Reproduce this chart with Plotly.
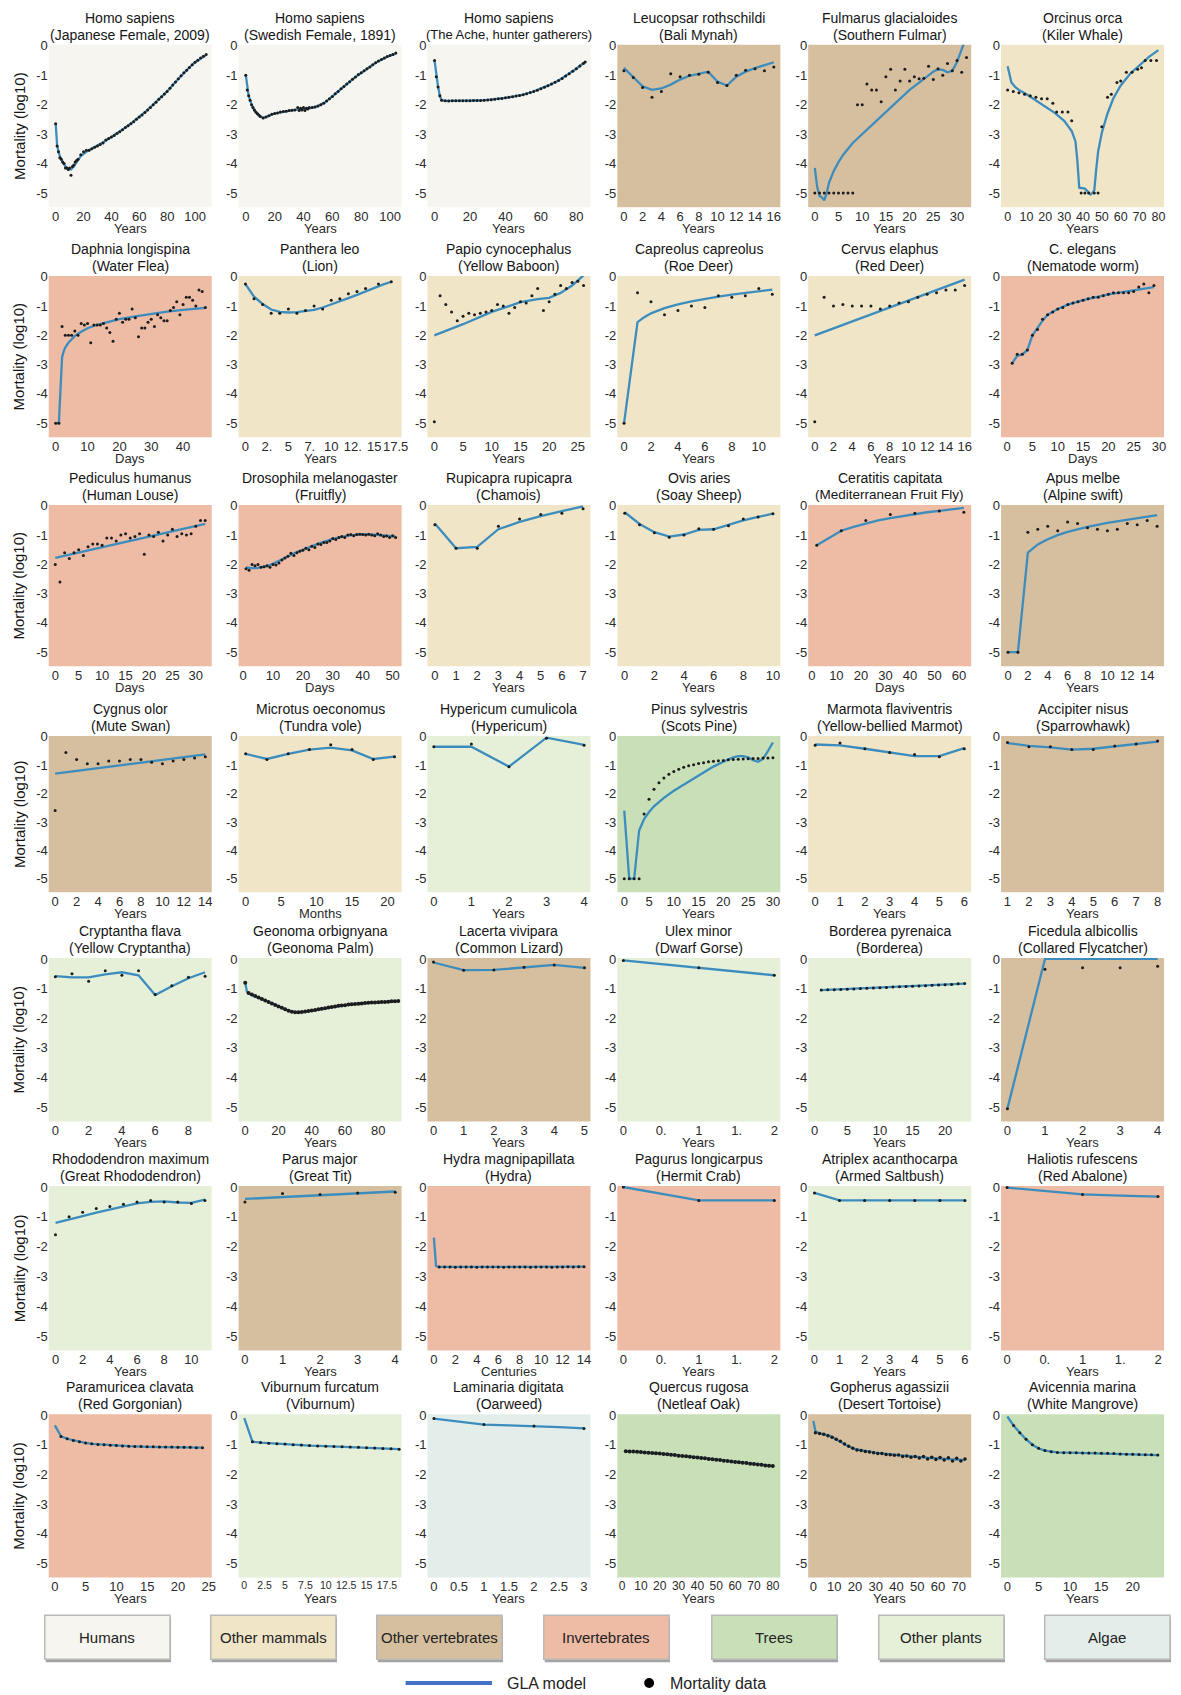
import plotly.graph_objects as go

FIG_W, FIG_H = 1181, 1695

GROUP_FILL = {
    "Humans": "#F7F5EF",
    "Other mammals": "#F1E5C8",
    "Other vertebrates": "#D6BF9F",
    "Invertebrates": "#EEBBA5",
    "Trees": "#C9DFB8",
    "Other plants": "#E6F0D9",
    "Algae": "#E3EEEA",
}
GROUP_ORDER = ["Humans", "Other mammals", "Other vertebrates", "Invertebrates",
               "Trees", "Other plants", "Algae"]

MODEL_COLOR = "#3C8DBE"
DATA_COLOR = "#1c1c1c"
BODY_FONT = "Arial, Liberation Sans, sans-serif"
NARROW_FONT = "Liberation Sans Narrow, Arial Narrow, Liberation Sans, sans-serif"

# ---------------- series: (age, log10 mortality) ----------------
japan_model = [(0,-2.65),(1,-3.35),(2,-3.6),(3,-3.75),(5,-3.95),(7,-4.1),(9,-4.18),(11,-4.2),(13,-4.1),(15,-3.95),(18,-3.75),(22,-3.6),(26,-3.5),(30,-3.4),(35,-3.25),(40,-3.1),(45,-2.95),(50,-2.78),(55,-2.6),(60,-2.42),(65,-2.22),(70,-2.0),(75,-1.78),(80,-1.55),(85,-1.28),(90,-1.02),(95,-0.78),(100,-0.56),(105,-0.4),(108,-0.32)]
japan_data = [(0,-2.65),(1,-3.4),(2,-3.6),(3,-3.8),(4,-3.85),(5,-3.95),(6,-4.0),(7,-4.15),(8,-4.15),(9,-4.2),(10,-4.15),(11,-4.4),(12,-4.1),(13,-4.05),(14,-3.95),(15,-3.9),(16,-3.85),(18,-3.7),(20,-3.6),(22,-3.55),(24,-3.55),(26,-3.5),(28,-3.45),(30,-3.4),(32,-3.35),(34,-3.3),(36,-3.2),(38,-3.15),(40,-3.1),(42,-3.05),(44,-2.98),(46,-2.92),(48,-2.85),(50,-2.78),(52,-2.72),(54,-2.65),(56,-2.58),(58,-2.5),(60,-2.42),(62,-2.35),(64,-2.27),(66,-2.18),(68,-2.1),(70,-2.0),(72,-1.92),(74,-1.82),(76,-1.73),(78,-1.64),(80,-1.55),(82,-1.44),(84,-1.33),(86,-1.23),(88,-1.12),(90,-1.02),(92,-0.92),(94,-0.83),(96,-0.74),(98,-0.65),(100,-0.56),(102,-0.49),(104,-0.42),(106,-0.36),(108,-0.3)]

sweden_model = [(0,-1.0),(1,-1.45),(2,-1.7),(4,-2.0),(6,-2.2),(8,-2.32),(10,-2.4),(12,-2.45),(14,-2.42),(17,-2.35),(20,-2.3),(25,-2.25),(30,-2.2),(35,-2.17),(40,-2.15),(45,-2.12),(50,-2.05),(55,-1.92),(60,-1.72),(65,-1.5),(70,-1.3),(75,-1.1),(80,-0.92),(85,-0.75),(90,-0.58),(95,-0.45),(100,-0.33),(104,-0.27)]
sweden_data = [(0,-1.0),(1,-1.5),(2,-1.7),(3,-1.85),(4,-2.0),(5,-2.1),(6,-2.18),(7,-2.25),(8,-2.3),(9,-2.35),(10,-2.4),(12,-2.45),(14,-2.42),(16,-2.38),(18,-2.33),(20,-2.3),(22,-2.28),(24,-2.25),(26,-2.23),(28,-2.22),(30,-2.2),(32,-2.19),(34,-2.18),(36,-2.1),(37,-2.2),(38,-2.12),(39,-2.18),(40,-2.1),(41,-2.2),(42,-2.12),(43,-2.15),(44,-2.1),(46,-2.1),(48,-2.08),(50,-2.05),(52,-2.0),(54,-1.95),(56,-1.88),(58,-1.8),(60,-1.72),(62,-1.63),(64,-1.55),(66,-1.46),(68,-1.38),(70,-1.3),(72,-1.22),(74,-1.14),(76,-1.06),(78,-0.98),(80,-0.92),(82,-0.85),(84,-0.78),(86,-0.72),(88,-0.65),(90,-0.58),(92,-0.52),(94,-0.47),(96,-0.42),(98,-0.37),(100,-0.33),(102,-0.3),(104,-0.25)]

ache_model = [(0,-0.5),(1,-1.0),(2,-1.4),(3,-1.7),(4,-1.85),(6,-1.87),(10,-1.87),(15,-1.87),(20,-1.87),(25,-1.86),(30,-1.84),(35,-1.81),(40,-1.77),(45,-1.72),(50,-1.66),(55,-1.57),(60,-1.46),(65,-1.33),(70,-1.18),(75,-0.99),(80,-0.78),(85,-0.55)]
ache_data = [(0,-0.5),(1,-1.05),(2,-1.4),(3,-1.7),(4,-1.85),(6,-1.87),(8,-1.88),(10,-1.87),(12,-1.87),(14,-1.87),(16,-1.87),(18,-1.87),(20,-1.87),(22,-1.86),(24,-1.86),(26,-1.86),(28,-1.85),(30,-1.84),(32,-1.83),(34,-1.82),(36,-1.8),(38,-1.79),(40,-1.77),(42,-1.75),(44,-1.73),(46,-1.71),(48,-1.69),(50,-1.66),(52,-1.63),(54,-1.59),(56,-1.55),(58,-1.51),(60,-1.46),(62,-1.41),(64,-1.36),(66,-1.3),(68,-1.24),(70,-1.18),(72,-1.11),(74,-1.03),(76,-0.95),(78,-0.87),(80,-0.78),(82,-0.69),(84,-0.6),(85,-0.55)]

mynah_model = [(0,-0.75),(1,-1.05),(2,-1.38),(3,-1.5),(4,-1.45),(5,-1.32),(6,-1.15),(7,-1.02),(8,-0.95),(9,-0.88),(10,-1.22),(11,-1.35),(12,-1.05),(13,-0.88),(14,-0.76),(15,-0.66),(16,-0.56)]
mynah_data = [(0,-0.85),(1,-1.08),(2,-1.42),(3,-1.75),(4,-1.55),(5,-0.95),(6,-1.05),(7,-1.0),(8,-0.97),(9,-0.9),(10,-1.25),(11,-1.35),(12,-1.0),(13,-0.83),(14,-0.78),(15,-0.85),(16,-0.72)]

fulmar_model = [(0,-4.15),(0.5,-4.8),(1,-5.1),(1.5,-5.15),(2,-5.25),(2.5,-5.0),(3,-4.65),(4,-4.25),(5,-3.95),(6,-3.7),(8,-3.3),(10,-3.0),(12,-2.7),(15,-2.25),(18,-1.8),(20,-1.5),(22,-1.25),(24,-1.0),(25,-0.88),(26,-0.8),(27,-0.82),(28,-0.9),(29,-0.85),(30,-0.55),(31,-0.15),(31.5,0.1)]
fulmar_data = [(0,-5),(1,-5),(2,-5),(3,-5),(4,-5),(5,-5),(6,-5),(7,-5),(8,-5),(9,-2.0),(10,-2.0),(11,-1.3),(12,-1.5),(13,-1.5),(14,-1.9),(15,-1.05),(16,-0.8),(17,-1.5),(18,-1.2),(19,-0.8),(20,-1.2),(21,-1.05),(22,-1.12),(23,-1.1),(24,-0.7),(25,-1.15),(26,-0.78),(27,-1.0),(28,-0.6),(29,-0.85),(30,-0.5),(31,-0.9),(32,-0.4)]

orca_model = [(0,-0.7),(1,-1.0),(2,-1.25),(4,-1.4),(6,-1.5),(10,-1.65),(15,-1.85),(20,-2.05),(25,-2.28),(30,-2.55),(34,-2.9),(36,-3.25),(37,-3.9),(38,-4.82),(40,-4.85),(41,-4.85),(43,-4.98),(44,-5.05),(45,-5.0),(46,-4.9),(47,-4.2),(48,-3.6),(50,-2.95),(53,-2.3),(56,-1.8),(60,-1.35),(65,-0.95),(70,-0.65),(75,-0.38),(80,-0.15)]
orca_data = [(0,-1.5),(3,-1.55),(6,-1.6),(9,-1.65),(12,-1.7),(15,-1.75),(18,-1.8),(21,-1.8),(24,-1.95),(26,-2.25),(29,-2.25),(32,-2.25),(34,-2.55),(39,-5.0),(41,-5.0),(43,-5.0),(46,-5.0),(48,-5.0),(50,-2.75),(53,-1.75),(55,-1.65),(58,-1.25),(60,-1.2),(63,-0.9),(66,-0.9),(69,-0.8),(71,-0.75),(73,-0.5),(76,-0.5),(79,-0.5)]

daphnia_model = [(0,-5),(1,-5),(1.3,-4.3),(1.6,-3.3),(2,-2.75),(2.5,-2.55),(3,-2.42),(4,-2.25),(5,-2.12),(6,-2.02),(8,-1.88),(10,-1.76),(13,-1.64),(16,-1.55),(20,-1.45),(25,-1.35),(30,-1.26),(35,-1.19),(40,-1.13),(44,-1.09),(47,-1.06)]
daphnia_data = [(0,-5),(1,-5),(2,-1.7),(3,-2.0),(4,-2.0),(5,-2.0),(6,-1.85),(7,-2.0),(8,-1.6),(9,-1.65),(10,-1.6),(11,-2.25),(12,-1.65),(13,-1.65),(14,-1.65),(15,-1.6),(16,-1.75),(17,-1.9),(18,-2.2),(19,-1.45),(20,-1.25),(21,-1.55),(22,-1.45),(23,-1.45),(24,-1.1),(25,-1.4),(26,-2.05),(27,-1.75),(28,-1.75),(29,-1.55),(30,-1.45),(31,-1.7),(32,-1.3),(33,-1.4),(34,-1.5),(35,-1.5),(36,-1.15),(37,-1.05),(38,-0.85),(39,-1.3),(40,-0.95),(41,-0.7),(42,-0.7),(43,-0.8),(44,-1.0),(45,-0.45),(46,-0.5),(47,-1.05)]

lion_model = [(0,-0.25),(1,-0.68),(2,-0.93),(3,-1.12),(4,-1.2),(5,-1.22),(6,-1.21),(7,-1.18),(8,-1.13),(9,-1.05),(10,-0.95),(11,-0.85),(12,-0.73),(13,-0.62),(14,-0.5),(15,-0.38),(16,-0.27),(17,-0.17)]
lion_data = [(0,-0.25),(1,-0.75),(2,-0.95),(3,-1.25),(4,-1.25),(5,-1.1),(6,-1.25),(7,-1.15),(8,-1.0),(9,-1.1),(10,-0.8),(11,-0.75),(12,-0.58),(13,-0.5),(14,-0.4),(15.5,-0.25),(17,-0.17)]

baboon_model = [(0,-2.0),(5,-1.62),(10,-1.2),(15,-0.87),(18,-0.76),(20,-0.72),(22,-0.55),(24,-0.3),(26,0.05)]
baboon_data = [(0,-4.95),(1,-0.65),(2,-0.95),(3,-1.2),(4,-1.5),(5,-1.35),(6,-1.25),(7,-1.3),(8,-1.25),(9,-1.2),(10,-1.15),(11,-0.95),(12,-1.0),(13,-1.25),(14,-1.05),(15,-0.85),(16,-0.9),(17,-0.65),(18,-0.4),(19,-1.15),(20,-0.85),(21,-0.6),(22,-0.3),(23,-0.4),(24,-0.2),(25,-0.15),(26,-0.3)]

roe_model = [(0,-5),(1,-1.55),(1.5,-1.38),(2,-1.25),(3,-1.07),(4,-0.94),(5,-0.84),(6,-0.75),(7,-0.68),(8,-0.61),(9,-0.55),(10,-0.49),(11,-0.44)]
roe_data = [(0,-5.0),(1,-0.55),(2,-0.85),(3,-1.3),(4,-1.15),(5,-1.0),(6,-1.05),(7,-0.65),(8,-0.7),(9,-0.65),(10,-0.4),(11,-0.6)]

reddeer_model = [(0,-2.0),(16,-0.1)]
reddeer_data = [(0,-4.95),(1,-0.7),(2,-1.0),(3,-0.95),(4,-1.0),(5,-1.0),(6,-1.0),(7,-1.1),(8,-1.0),(9,-0.9),(10,-0.85),(11,-0.7),(12,-0.6),(13,-0.55),(14,-0.45),(15,-0.45),(16,-0.3)]

elegans_model = [(1,-2.95),(2,-2.7),(3,-2.65),(4,-2.5),(5,-2.0),(6,-1.75),(7,-1.5),(8,-1.3),(10,-1.1),(12,-0.95),(15,-0.8),(20,-0.6),(25,-0.45),(29,-0.35)]
elegans_data = [(1,-2.95),(2,-2.65),(3,-2.65),(4,-2.5),(5,-2.0),(6,-1.8),(7,-1.45),(8,-1.3),(9,-1.2),(10,-1.1),(11,-1.05),(12,-0.95),(13,-0.9),(14,-0.85),(15,-0.8),(16,-0.75),(17,-0.7),(18,-0.7),(19,-0.65),(20,-0.6),(21,-0.55),(22,-0.55),(23,-0.55),(24,-0.55),(25,-0.5),(26,-0.35),(27,-0.25),(28,-0.55),(29,-0.3)]

louse_model = [(0,-1.78),(32,-0.62)]
louse_data = [(0,-2.0),(1,-2.6),(2,-1.6),(3,-1.8),(4,-1.6),(5,-1.5),(6,-1.7),(7,-1.4),(8,-1.3),(9,-1.3),(10,-1.35),(11,-1.1),(12,-1.1),(13,-1.2),(14,-1.0),(15,-0.95),(16,-1.1),(17,-1.05),(18,-0.95),(19,-1.65),(20,-1.0),(21,-1.05),(22,-0.9),(23,-1.2),(24,-1.0),(25,-0.8),(26,-1.05),(27,-0.95),(28,-1.0),(29,-0.95),(30,-0.7),(31,-0.5),(32,-0.5)]

fruitfly_model = [(1,-2.1),(3,-2.13),(5,-2.12),(8,-2.06),(10,-1.98),(12,-1.88),(15,-1.72),(18,-1.58),(20,-1.5),(25,-1.3),(30,-1.13),(35,-1.02),(40,-0.97),(45,-0.99),(50,-1.04),(51,-1.05)]
fruitfly_data = [(1,-2.15),(2,-2.2),(3,-2.0),(4,-2.05),(5,-2.0),(6,-2.1),(7,-2.08),(8,-2.05),(9,-2.1),(10,-2.0),(11,-2.02),(12,-1.95),(13,-1.85),(14,-1.78),(15,-1.72),(16,-1.62),(17,-1.7),(18,-1.6),(19,-1.55),(20,-1.52),(21,-1.45),(22,-1.5),(23,-1.38),(24,-1.42),(25,-1.3),(26,-1.32),(27,-1.25),(28,-1.25),(29,-1.2),(30,-1.12),(31,-1.15),(32,-1.08),(33,-1.05),(34,-1.08),(35,-1.0),(36,-0.98),(37,-1.02),(38,-0.98),(39,-0.97),(40,-0.98),(41,-1.0),(42,-0.97),(43,-1.0),(44,-1.02),(45,-0.95),(46,-1.0),(47,-1.05),(48,-1.03),(49,-1.08),(50,-1.02),(51,-1.08)]

chamois_model = [(0,-0.6),(1,-1.45),(2,-1.4),(3,-0.8),(4,-0.55),(5,-0.35),(6,-0.18),(7,-0.02)]
chamois_data = [(0,-0.65),(1,-1.45),(2,-1.45),(3,-0.7),(4,-0.45),(5,-0.3),(6,-0.25),(7,-0.1)]

sheep_model = [(0,-0.22),(1,-0.62),(2,-0.9),(3,-1.05),(4,-0.98),(5,-0.82),(6,-0.8),(7,-0.65),(8,-0.5),(9,-0.38),(10,-0.27)]
sheep_data = [(0,-0.25),(1,-0.65),(2,-0.92),(3,-1.07),(4,-1.0),(5,-0.78),(6,-0.8),(7,-0.68),(8,-0.45),(9,-0.38),(10,-0.27)]

medfly_model = [(2,-1.35),(7,-1.1),(12,-0.85),(17,-0.72),(22,-0.6),(27,-0.5),(32,-0.42),(37,-0.35),(42,-0.28),(47,-0.22),(52,-0.17),(57,-0.12),(62,-0.07)]
medfly_data = [(2,-1.35),(12,-0.85),(22,-0.5),(32,-0.3),(42,-0.25),(52,-0.18),(62,-0.22)]

swift_model = [(0,-5),(1,-5),(2,-1.6),(2.5,-1.45),(3,-1.32),(4,-1.14),(5,-1.0),(6,-0.89),(7,-0.8),(8,-0.72),(10,-0.58),(12,-0.47),(14,-0.37),(15,-0.32)]
swift_data = [(0,-5),(1,-5),(2,-0.9),(3,-0.8),(4,-0.7),(5,-0.85),(6,-0.55),(7,-0.6),(8,-0.75),(9,-0.8),(10,-0.85),(11,-0.8),(12,-0.6),(13,-0.65),(14,-0.5),(15,-0.7)]

swan_model = [(0,-1.3),(14,-0.62)]
swan_data = [(0,-2.6),(1,-0.55),(2,-0.8),(3,-0.95),(4,-0.95),(5,-0.85),(6,-0.85),(7,-0.8),(8,-0.8),(9,-0.9),(10,-0.95),(11,-0.85),(12,-0.8),(13,-0.75),(14,-0.7)]

vole_model = [(0,-0.6),(3,-0.78),(6,-0.6),(9,-0.45),(12,-0.38),(15,-0.48),(18,-0.78),(21,-0.7)]
vole_data = [(0,-0.6),(3,-0.8),(6,-0.6),(9,-0.45),(12,-0.28),(15,-0.45),(18,-0.8),(21,-0.7)]

hypericum_model = [(0,-0.35),(1,-0.35),(2,-1.05),(3,-0.03),(4,-0.28)]
hypericum_data = [(0,-0.35),(1,-0.25),(2,-1.05),(3,-0.05),(4,-0.3)]

pine_model = [(0,-2.6),(1,-5.0),(2,-5.0),(2.5,-4.2),(3,-3.3),(4,-2.9),(5,-2.65),(6,-2.45),(8,-2.15),(10,-1.9),(12,-1.68),(15,-1.35),(18,-1.05),(20,-0.88),(22,-0.72),(23,-0.68),(24,-0.68),(25,-0.72),(26,-0.82),(27,-0.88),(28,-0.78),(29,-0.5),(30,-0.2)]
pine_data = [(0,-5.0),(1,-5.0),(2,-5.0),(3,-5.0),(4,-2.72),(5,-2.2),(6,-1.85),(7,-1.62),(8,-1.45),(9,-1.32),(10,-1.22),(11,-1.14),(12,-1.07),(13,-1.02),(14,-0.98),(15,-0.94),(16,-0.91),(17,-0.88),(18,-0.86),(19,-0.84),(20,-0.83),(21,-0.81),(22,-0.8),(23,-0.79),(24,-0.78),(25,-0.77),(26,-0.76),(27,-0.76),(28,-0.75),(29,-0.75),(30,-0.74)]

marmot_model = [(0,-0.27),(1,-0.3),(2,-0.42),(3,-0.55),(4,-0.68),(5,-0.68),(6,-0.4)]
marmot_data = [(0,-0.3),(1,-0.22),(2,-0.42),(3,-0.55),(4,-0.62),(5,-0.7),(6,-0.42)]

hawk_model = [(1,-0.22),(2,-0.32),(3,-0.37),(4,-0.45),(5,-0.42),(6,-0.33),(7,-0.25),(8,-0.17)]
hawk_data = [(1,-0.2),(2,-0.35),(3,-0.35),(4,-0.45),(5,-0.45),(6,-0.32),(7,-0.25),(8,-0.15)]

cryptantha_model = [(0,-0.58),(1,-0.62),(2,-0.62),(3,-0.52),(4,-0.45),(5,-0.55),(6,-1.22),(7,-0.92),(8,-0.65),(9,-0.45)]
cryptantha_data = [(0,-0.6),(1,-0.5),(2,-0.75),(3,-0.4),(4,-0.55),(5,-0.4),(6,-1.2),(7,-0.9),(8,-0.62),(9,-0.58)]

geonoma_model = [(0,-0.8),(1,-1.1),(2,-1.17),(5,-1.25),(10,-1.35),(15,-1.47),(20,-1.6),(25,-1.72),(30,-1.8),(35,-1.79),(40,-1.75),(50,-1.65),(60,-1.56),(70,-1.5),(80,-1.46),(92,-1.42)]
geonoma_data = [(0,-0.8),(2,-1.15),(4,-1.2),(6,-1.25),(8,-1.3),(10,-1.35),(12,-1.4),(14,-1.45),(16,-1.5),(18,-1.55),(20,-1.6),(22,-1.65),(24,-1.7),(26,-1.75),(28,-1.78),(30,-1.8),(32,-1.8),(34,-1.79),(36,-1.77),(38,-1.76),(40,-1.74),(42,-1.72),(44,-1.7),(46,-1.68),(48,-1.66),(50,-1.64),(52,-1.62),(54,-1.6),(56,-1.58),(58,-1.57),(60,-1.56),(62,-1.54),(64,-1.53),(66,-1.52),(68,-1.51),(70,-1.5),(72,-1.49),(74,-1.48),(76,-1.47),(78,-1.47),(80,-1.46),(82,-1.45),(84,-1.45),(86,-1.44),(88,-1.43),(90,-1.43),(92,-1.42)]

lizard_model = [(0,-0.12),(1,-0.38),(2,-0.37),(3,-0.28),(4,-0.2),(5,-0.3)]
lizard_data = [(0,-0.1),(1,-0.38),(2,-0.37),(3,-0.28),(4,-0.2),(5,-0.3)]

ulex_model = [(0,-0.05),(1,-0.3),(2,-0.55)]
ulex_data = [(0,-0.05),(1,-0.3),(2,-0.55)]

borderea_model = [(1,-1.05),(23,-0.83)]
borderea_data = [(1,-1.05),(2,-1.04),(3,-1.04),(4,-1.03),(5,-1.02),(6,-1.01),(7,-1.0),(8,-0.99),(9,-0.98),(10,-0.97),(11,-0.96),(12,-0.95),(13,-0.94),(14,-0.93),(15,-0.92),(16,-0.91),(17,-0.9),(18,-0.89),(19,-0.88),(20,-0.87),(21,-0.86),(22,-0.84),(23,-0.83)]

flycatcher_model = [(0,-5.05),(1,0.0),(2,0.0),(3,0.0),(4,0.0)]
flycatcher_data = [(0,-5.05),(1,-0.35),(2,-0.3),(3,-0.3),(4,-0.25)]

rhodo_model = [(0,-1.2),(1,-1.1),(2,-0.98),(3,-0.86),(4,-0.75),(5,-0.64),(6,-0.55),(7,-0.5),(8,-0.48),(9,-0.52),(10,-0.53),(11,-0.42)]
rhodo_data = [(0,-1.6),(1,-1.0),(2,-0.85),(3,-0.72),(4,-0.65),(5,-0.58),(6,-0.5),(7,-0.45),(8,-0.5),(9,-0.5),(10,-0.55),(11,-0.45)]

tit_model = [(0,-0.4),(1,-0.34),(2,-0.28),(3,-0.22),(4,-0.15)]
tit_data = [(0,-0.5),(1,-0.22),(2,-0.25),(3,-0.2),(4,-0.18)]

hydra_model = [(0,-1.7),(0.1,-2.4),(0.2,-2.65),(0.4,-2.68),(1,-2.68),(14,-2.67)]
hydra_data = [(0.5,-2.68),(1,-2.68),(1.5,-2.68),(2,-2.69),(2.5,-2.68),(3,-2.68),(3.5,-2.68),(4,-2.69),(4.5,-2.68),(5,-2.68),(5.5,-2.68),(6,-2.68),(6.5,-2.69),(7,-2.68),(7.5,-2.68),(8,-2.68),(8.5,-2.68),(9,-2.69),(9.5,-2.68),(10,-2.68),(10.5,-2.68),(11,-2.69),(11.5,-2.68),(12,-2.68),(12.5,-2.67),(13,-2.68),(13.5,-2.67),(14,-2.67)]

pagurus_model = [(0,0.0),(1,-0.45),(2,-0.45)]
pagurus_data = [(0,0.0),(1,-0.45),(2,-0.45)]

atriplex_model = [(0,-0.2),(1,-0.45),(2,-0.45),(3,-0.45),(4,-0.45),(5,-0.45),(6,-0.45)]
atriplex_data = [(0,-0.2),(1,-0.45),(2,-0.45),(3,-0.45),(4,-0.45),(5,-0.45),(6,-0.45)]

abalone_model = [(0,-0.02),(0.5,-0.14),(1,-0.25),(1.5,-0.29),(2,-0.32)]
abalone_data = [(0,-0.02),(1,-0.25),(2,-0.32)]

gorgonian_model = [(0,-0.35),(1,-0.72),(2,-0.8),(3,-0.86),(4,-0.9),(5,-0.94),(6,-0.97),(8,-1.0),(10,-1.03),(12,-1.05),(15,-1.07),(18,-1.08),(21,-1.09),(24,-1.1)]
gorgonian_data = [(1,-0.72),(2,-0.8),(3,-0.86),(4,-0.9),(5,-0.94),(6,-0.97),(7,-0.99),(8,-1.0),(9,-1.02),(10,-1.03),(11,-1.04),(12,-1.05),(13,-1.06),(14,-1.06),(15,-1.07),(16,-1.07),(17,-1.08),(18,-1.08),(19,-1.08),(20,-1.09),(21,-1.09),(22,-1.09),(23,-1.1),(24,-1.1)]

viburnum_model = [(0,-0.1),(1,-0.9),(2,-0.93),(4,-0.97),(6,-1.0),(8,-1.03),(10,-1.05),(12,-1.07),(14,-1.09),(16,-1.11),(18,-1.14),(19,-1.15)]
viburnum_data = [(1,-0.9),(2,-0.93),(3,-0.95),(4,-0.97),(5,-0.98),(6,-1.0),(7,-1.01),(8,-1.03),(9,-1.04),(10,-1.05),(11,-1.06),(12,-1.07),(13,-1.08),(14,-1.09),(15,-1.1),(16,-1.11),(17,-1.13),(18,-1.14),(19,-1.15)]

oarweed_model = [(0,-0.12),(0.5,-0.22),(1,-0.32),(1.5,-0.35),(2,-0.37),(2.5,-0.41),(3,-0.45)]
oarweed_data = [(0,-0.12),(1,-0.32),(2,-0.37),(3,-0.45)]

oak_model = [(2,-1.22),(20,-1.3),(40,-1.43),(60,-1.58),(80,-1.72)]
oak_data = [(2,-1.22),(4,-1.23),(6,-1.23),(8,-1.24),(10,-1.25),(12,-1.26),(14,-1.27),(16,-1.28),(18,-1.29),(20,-1.3),(22,-1.31),(24,-1.32),(26,-1.34),(28,-1.35),(30,-1.37),(32,-1.38),(34,-1.39),(36,-1.41),(38,-1.42),(40,-1.43),(42,-1.45),(44,-1.46),(46,-1.48),(48,-1.49),(50,-1.51),(52,-1.52),(54,-1.54),(56,-1.55),(58,-1.57),(60,-1.58),(62,-1.59),(64,-1.61),(66,-1.62),(68,-1.64),(70,-1.65),(72,-1.67),(74,-1.68),(76,-1.7),(78,-1.71),(80,-1.72)]

tortoise_model = [(0,-0.2),(1,-0.55),(3,-0.62),(5,-0.65),(8,-0.7),(10,-0.78),(13,-0.9),(16,-1.02),(20,-1.15),(25,-1.22),(30,-1.27),(35,-1.31),(40,-1.35),(45,-1.38),(50,-1.41),(55,-1.44),(60,-1.46),(65,-1.48),(70,-1.5),(73,-1.52)]
tortoise_data = [(1,-0.6),(3,-0.62),(5,-0.65),(7,-0.7),(9,-0.75),(11,-0.82),(13,-0.88),(15,-0.98),(17,-1.05),(19,-1.12),(21,-1.18),(23,-1.2),(25,-1.23),(27,-1.25),(29,-1.27),(31,-1.3),(33,-1.3),(35,-1.33),(37,-1.34),(39,-1.36),(41,-1.35),(43,-1.4),(45,-1.38),(47,-1.42),(49,-1.4),(51,-1.45),(53,-1.4),(55,-1.48),(57,-1.42),(59,-1.5),(61,-1.43),(63,-1.52),(65,-1.44),(67,-1.55),(69,-1.46),(71,-1.55),(73,-1.48)]

mangrove_model = [(0,-0.05),(1,-0.35),(2,-0.6),(3,-0.82),(4,-1.0),(5,-1.13),(6,-1.2),(7,-1.24),(8,-1.26),(10,-1.27),(12,-1.28),(15,-1.29),(18,-1.31),(21,-1.33),(24,-1.35)]
mangrove_data = [(1,-0.35),(2,-0.6),(3,-0.82),(4,-1.0),(5,-1.12),(6,-1.2),(7,-1.24),(8,-1.26),(9,-1.27),(10,-1.27),(11,-1.27),(12,-1.28),(13,-1.28),(14,-1.28),(15,-1.29),(16,-1.29),(17,-1.3),(18,-1.31),(19,-1.32),(20,-1.32),(21,-1.33),(22,-1.34),(23,-1.34),(24,-1.35)]

HALF_TICKS = ["0", "0.", "1", "1.", "2"]

# title, common name, group, age unit, model, data, x range, x ticks, tick labels
PANELS = [
    ("Homo sapiens", "(Japanese Female, 2009)", "Humans", "Years", japan_model, japan_data, (-5, 112), [0, 20, 40, 60, 80, 100], None),
    ("Homo sapiens", "(Swedish Female, 1891)", "Humans", "Years", sweden_model, sweden_data, (-5, 108), [0, 20, 40, 60, 80, 100], None),
    ("Homo sapiens", "(The Ache, hunter gatherers)", "Humans", "Years", ache_model, ache_data, (-4, 88), [0, 20, 40, 60, 80], None),
    ("Leucopsar rothschildi", "(Bali Mynah)", "Other vertebrates", "Years", mynah_model, mynah_data, (-0.7, 16.7), [0, 2, 4, 6, 8, 10, 12, 14, 16], None),
    ("Fulmarus glacialoides", "(Southern Fulmar)", "Other vertebrates", "Years", fulmar_model, fulmar_data, (-1.4, 33), [0, 5, 10, 15, 20, 25, 30], None),
    ("Orcinus orca", "(Kiler Whale)", "Other mammals", "Years", orca_model, orca_data, (-3.5, 83), [0, 10, 20, 30, 40, 50, 60, 70, 80], None),

    ("Daphnia longispina", "(Water Flea)", "Invertebrates", "Days", daphnia_model, daphnia_data, (-2.2, 49), [0, 10, 20, 30, 40], None),
    ("Panthera leo", "(Lion)", "Other mammals", "Years", lion_model, lion_data, (-0.8, 18.2), [0, 2.5, 5, 7.5, 10, 12.5, 15, 17.5], ["0", "2.", "5", "7.", "10", "12.", "15", "17.5"]),
    ("Papio cynocephalus", "(Yellow Baboon)", "Other mammals", "Years", baboon_model, baboon_data, (-1.2, 27.2), [0, 5, 10, 15, 20, 25], None),
    ("Capreolus capreolus", "(Roe Deer)", "Other mammals", "Years", roe_model, roe_data, (-0.5, 11.6), [0, 2, 4, 6, 8, 10], None),
    ("Cervus elaphus", "(Red Deer)", "Other mammals", "Years", reddeer_model, reddeer_data, (-0.7, 16.7), [0, 2, 4, 6, 8, 10, 12, 14, 16], None),
    ("C. elegans", "(Nematode worm)", "Invertebrates", "Days", elegans_model, elegans_data, (-1.2, 31), [0, 5, 10, 15, 20, 25, 30], None),

    ("Pediculus humanus", "(Human Louse)", "Invertebrates", "Days", louse_model, louse_data, (-1.4, 33.4), [0, 5, 10, 15, 20, 25, 30], None),
    ("Drosophila melanogaster", "(Fruitfly)", "Invertebrates", "Days", fruitfly_model, fruitfly_data, (-1.5, 53), [0, 10, 20, 30, 40, 50], None),
    ("Rupicapra rupicapra", "(Chamois)", "Other mammals", "Years", chamois_model, chamois_data, (-0.35, 7.35), [0, 1, 2, 3, 4, 5, 6, 7], None),
    ("Ovis aries", "(Soay Sheep)", "Other mammals", "Years", sheep_model, sheep_data, (-0.5, 10.5), [0, 2, 4, 6, 8, 10], None),
    ("Ceratitis capitata", "(Mediterranean Fruit Fly)", "Invertebrates", "Days", medfly_model, medfly_data, (-1.5, 65), [0, 10, 20, 30, 40, 50, 60], None),
    ("Apus melbe", "(Alpine swift)", "Other vertebrates", "Years", swift_model, swift_data, (-0.7, 15.7), [0, 2, 4, 6, 8, 10, 12, 14], None),

    ("Cygnus olor", "(Mute Swan)", "Other vertebrates", "Years", swan_model, swan_data, (-0.6, 14.6), [0, 2, 4, 6, 8, 10, 12, 14], None),
    ("Microtus oeconomus", "(Tundra vole)", "Other mammals", "Months", vole_model, vole_data, (-1.0, 22), [0, 5, 10, 15, 20], None),
    ("Hypericum cumulicola", "(Hypericum)", "Other plants", "Years", hypericum_model, hypericum_data, (-0.17, 4.17), [0, 1, 2, 3, 4], None),
    ("Pinus sylvestris", "(Scots Pine)", "Trees", "Years", pine_model, pine_data, (-1.4, 31.5), [0, 5, 10, 15, 20, 25, 30], None),
    ("Marmota flaviventris", "(Yellow-bellied Marmot)", "Other mammals", "Years", marmot_model, marmot_data, (-0.28, 6.28), [0, 1, 2, 3, 4, 5, 6], None),
    ("Accipiter nisus", "(Sparrowhawk)", "Other vertebrates", "Years", hawk_model, hawk_data, (0.7, 8.3), [1, 2, 3, 4, 5, 6, 7, 8], None),

    ("Cryptantha flava", "(Yellow Cryptantha)", "Other plants", "Years", cryptantha_model, cryptantha_data, (-0.4, 9.4), [0, 2, 4, 6, 8], None),
    ("Geonoma orbignyana", "(Geonoma Palm)", "Other plants", "Years", geonoma_model, geonoma_data, (-4, 94), [0, 20, 40, 60, 80], None),
    ("Lacerta vivipara", "(Common Lizard)", "Other vertebrates", "Years", lizard_model, lizard_data, (-0.2, 5.2), [0, 1, 2, 3, 4, 5], None),
    ("Ulex minor", "(Dwarf Gorse)", "Other plants", "Years", ulex_model, ulex_data, (-0.08, 2.08), [0, 0.5, 1, 1.5, 2], HALF_TICKS),
    ("Borderea pyrenaica", "(Borderea)", "Other plants", "Years", borderea_model, borderea_data, (-1.0, 24), [0, 5, 10, 15, 20], None),
    ("Ficedula albicollis", "(Collared Flycatcher)", "Other vertebrates", "Years", flycatcher_model, flycatcher_data, (-0.17, 4.17), [0, 1, 2, 3, 4], None),

    ("Rhododendron maximum", "(Great Rhododendron)", "Other plants", "Years", rhodo_model, rhodo_data, (-0.5, 11.5), [0, 2, 4, 6, 8, 10], None),
    ("Parus major", "(Great Tit)", "Other vertebrates", "Years", tit_model, tit_data, (-0.17, 4.17), [0, 1, 2, 3, 4], None),
    ("Hydra magnipapillata", "(Hydra)", "Invertebrates", "Centuries", hydra_model, hydra_data, (-0.6, 14.6), [0, 2, 4, 6, 8, 10, 12, 14], None),
    ("Pagurus longicarpus", "(Hermit Crab)", "Invertebrates", "Years", pagurus_model, pagurus_data, (-0.08, 2.08), [0, 0.5, 1, 1.5, 2], HALF_TICKS),
    ("Atriplex acanthocarpa", "(Armed Saltbush)", "Other plants", "Years", atriplex_model, atriplex_data, (-0.25, 6.25), [0, 1, 2, 3, 4, 5, 6], None),
    ("Haliotis rufescens", "(Red Abalone)", "Invertebrates", "Years", abalone_model, abalone_data, (-0.08, 2.08), [0, 0.5, 1, 1.5, 2], HALF_TICKS),

    ("Paramuricea clavata", "(Red Gorgonian)", "Invertebrates", "Years", gorgonian_model, gorgonian_data, (-1.0, 25.5), [0, 5, 10, 15, 20, 25], None),
    ("Viburnum furcatum", "(Viburnum)", "Other plants", "Years", viburnum_model, viburnum_data, (-0.7, 19.3), [0, 2.5, 5, 7.5, 10, 12.5, 15, 17.5], None),
    ("Laminaria digitata", "(Oarweed)", "Algae", "Years", oarweed_model, oarweed_data, (-0.13, 3.13), [0, 0.5, 1, 1.5, 2, 2.5, 3], None),
    ("Quercus rugosa", "(Netleaf Oak)", "Trees", "Years", oak_model, oak_data, (-2.5, 84), [0, 10, 20, 30, 40, 50, 60, 70, 80], None),
    ("Gopherus agassizii", "(Desert Tortoise)", "Other vertebrates", "Years", tortoise_model, tortoise_data, (-2.5, 76), [0, 10, 20, 30, 40, 50, 60, 70], None),
    ("Avicennia marina", "(White Mangrove)", "Trees", "Years", mangrove_model, mangrove_data, (-1.0, 25), [0, 5, 10, 15, 20], None),
]

# per-panel text / marker tweaks for crowded panels
TICK_SIZE = {"Viburnum furcatum": 10.5, "Quercus rugosa": 12, "Orcinus orca": 12.5}
TITLE_SIZE = {"(The Ache, hunter gatherers)": 13, "(Mediterranean Fruit Fly)": 13.5}
DOT_SIZE = {"Geonoma orbignyana": 4, "Quercus rugosa": 4, "Gopherus agassizii": 3.5}

Y_TICKS = [0, -1, -2, -3, -4, -5]
Y_TEXT = ["0", "-1", "-2", "-3", "-4", "-5"]
Y_RANGE = [-5.48, 0.03]

# panel grid in pixels
COL_LEFT = [49, 240, 430, 621, 813, 1007]
COL_W = 164
ROW_TOP = [38, 270, 500, 732, 955, 1184, 1413]
ROW_H = [163, 162, 162, 157, 164, 165, 164]


def px_x(v):
    return v / FIG_W


def px_y(v):
    return 1 - v / FIG_H


def tick_label(v):
    return str(int(v)) if float(v).is_integer() else str(v)


fig = go.Figure()
axes = {}
shapes = []
annotations = []

for k, (name, common, group, unit, model, data, xr, xt, xtext) in enumerate(PANELS):
    r, c = divmod(k, 6)
    n = k + 1
    sfx = "" if n == 1 else str(n)
    left, top, h = COL_LEFT[c], ROW_TOP[r], ROW_H[r]
    family = BODY_FONT if r < 3 else NARROW_FONT
    yfont = dict(family=family, size=13, color="#2a2a2a")
    xfont = dict(family=family, size=TICK_SIZE.get(name, 13), color="#2a2a2a")

    axes["xaxis" + sfx] = dict(
        domain=[px_x(left), px_x(left + COL_W)], anchor="y" + sfx, range=list(xr),
        tickmode="array", tickvals=xt, ticktext=xtext or [tick_label(v) for v in xt],
        tickangle=0, showgrid=False, zeroline=False, showline=False, ticks="",
        tickfont=xfont, fixedrange=True)
    axes["yaxis" + sfx] = dict(
        domain=[px_y(top + h), px_y(top)], anchor="x" + sfx, range=Y_RANGE,
        tickmode="array", tickvals=Y_TICKS, ticktext=Y_TEXT,
        showgrid=False, zeroline=False, showline=False, ticks="",
        tickfont=yfont, fixedrange=True)

    shapes.append(dict(type="rect", xref=f"x{sfx} domain", yref=f"y{sfx} domain",
                       x0=0, x1=1, y0=0, y1=1, fillcolor=GROUP_FILL[group],
                       line=dict(width=0), layer="below"))

    mx, my = zip(*model)
    fig.add_trace(go.Scatter(x=mx, y=my, mode="lines", xaxis="x" + sfx, yaxis="y" + sfx,
                             line=dict(color=MODEL_COLOR, width=2.3), hoverinfo="skip",
                             showlegend=False))
    dx, dy = zip(*data)
    fig.add_trace(go.Scatter(x=dx, y=dy, mode="markers", xaxis="x" + sfx, yaxis="y" + sfx,
                             marker=dict(color=DATA_COLOR, size=DOT_SIZE.get(name, 3)),
                             hoverinfo="skip", showlegend=False, cliponaxis=True))

    cx = px_x(left + COL_W / 2)
    annotations.append(dict(x=cx, y=px_y(top - 27), xref="paper", yref="paper", text=name,
                            showarrow=False, xanchor="center", yanchor="middle",
                            font=dict(family=family, size=TITLE_SIZE.get(name, 14), color="#151515")))
    annotations.append(dict(x=cx, y=px_y(top - 10), xref="paper", yref="paper", text=common,
                            showarrow=False, xanchor="center", yanchor="middle",
                            font=dict(family=family, size=TITLE_SIZE.get(common, 14), color="#151515")))
    annotations.append(dict(x=cx, y=px_y(top + h + 21), xref="paper", yref="paper", text=unit,
                            showarrow=False, xanchor="center", yanchor="middle",
                            font=dict(family=family, size=13, color="#2a2a2a")))
    if c == 0:
        annotations.append(dict(x=px_x(19), y=px_y(top + h / 2), xref="paper", yref="paper",
                                text="Mortality (log10)", textangle=-90, showarrow=False,
                                xanchor="center", yanchor="middle",
                                font=dict(family=BODY_FONT, size=15, color="#151515")))

# group key boxes
BOX_LEFT = [45, 212, 379, 547, 716, 884, 1051]
BOX_W, BOX_TOP, BOX_BOTTOM = 126, 1615, 1659
for left, group in zip(BOX_LEFT, GROUP_ORDER):
    shapes.append(dict(type="rect", xref="paper", yref="paper",
                       x0=px_x(left + 1), x1=px_x(left + BOX_W + 1),
                       y0=px_y(BOX_BOTTOM + 3), y1=px_y(BOX_TOP + 2),
                       fillcolor="#a3a3a3", line=dict(width=0)))
    shapes.append(dict(type="rect", xref="paper", yref="paper",
                       x0=px_x(left), x1=px_x(left + BOX_W),
                       y0=px_y(BOX_BOTTOM), y1=px_y(BOX_TOP),
                       fillcolor=GROUP_FILL[group], line=dict(color="#b9b9b9", width=1.5)))
    annotations.append(dict(x=px_x(left + BOX_W / 2), y=px_y((BOX_TOP + BOX_BOTTOM) / 2),
                            xref="paper", yref="paper", text=group, showarrow=False,
                            xanchor="center", yanchor="middle",
                            font=dict(family=NARROW_FONT, size=15, color="#222222")))

# model / data key
KEY_Y = 1683
shapes.append(dict(type="line", xref="paper", yref="paper", x0=px_x(408), x1=px_x(495),
                   y0=px_y(KEY_Y), y1=px_y(KEY_Y), line=dict(color="#4472C4", width=4)))
shapes.append(dict(type="circle", xref="paper", yref="paper", x0=px_x(648), x1=px_x(658),
                   y0=px_y(KEY_Y + 5), y1=px_y(KEY_Y - 5), fillcolor="#000000",
                   line=dict(width=0)))
annotations.append(dict(x=px_x(508), y=px_y(KEY_Y), xref="paper", yref="paper", text="GLA model",
                        showarrow=False, xanchor="left", yanchor="middle",
                        font=dict(family=NARROW_FONT, size=16, color="#222222")))
annotations.append(dict(x=px_x(672), y=px_y(KEY_Y), xref="paper", yref="paper",
                        text="Mortality data", showarrow=False, xanchor="left", yanchor="middle",
                        font=dict(family=NARROW_FONT, size=16, color="#222222")))

fig.update_layout(
    width=FIG_W, height=FIG_H, margin=dict(l=0, r=0, t=0, b=0),
    paper_bgcolor="white", plot_bgcolor="rgba(0,0,0,0)",
    showlegend=False, hovermode=False,
    shapes=shapes, annotations=annotations, **axes)

fig.write_html("out.html")
